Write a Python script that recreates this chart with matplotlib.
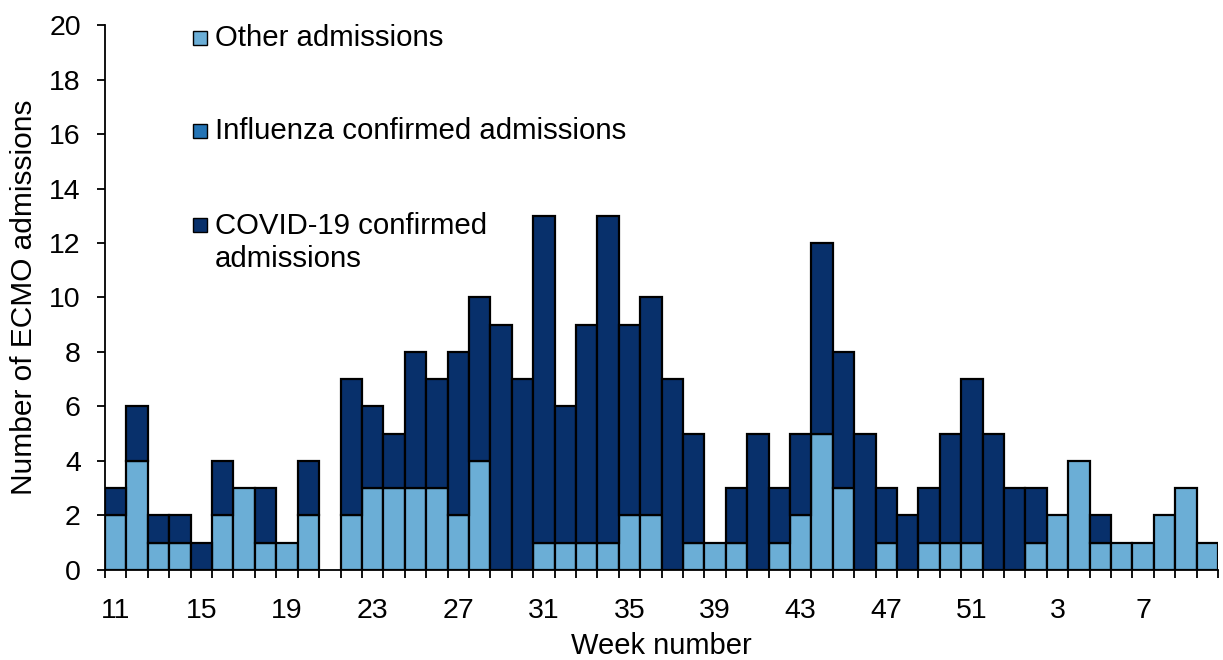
import matplotlib
matplotlib.use("Agg")
import matplotlib.pyplot as plt
import matplotlib.patches as ptch
from matplotlib.ticker import FixedLocator, FixedFormatter
import numpy as np

# weekly ECMO admissions, week 11 through week 10 of the following year
weeks = list(range(11, 53)) + list(range(1, 11))
other = [2, 4, 1, 1, 0, 2, 3, 1, 1, 2,
         0, 2, 3, 3, 3, 3, 2, 4, 0, 0,
         1, 1, 1, 1, 2, 2, 0, 1, 1, 1,
         0, 1, 2, 5, 3, 0, 1, 0, 1, 1,
         1, 0, 0, 1, 2, 4, 1, 1, 1, 2,
         3, 1]
influenza = [0] * len(weeks)
totals = [3, 6, 2, 2, 1, 4, 3, 3, 1, 4,
          0, 7, 6, 5, 8, 7, 8, 10, 9, 7,
          13, 6, 9, 13, 9, 10, 7, 5, 1, 3,
          5, 3, 5, 12, 8, 5, 3, 2, 3, 5,
          7, 5, 3, 3, 2, 4, 2, 1, 1, 2,
          3, 1]
covid = [t - o - f for t, o, f in zip(totals, other, influenza)]

series_names = ["Other admissions", "Influenza confirmed admissions",
                "COVID-19 confirmed\nadmissions"]
colors = ["#6BAED6", "#2474B5", "#08306B"]

plt.rcParams['font.family'] = ['Liberation Sans', 'DejaVu Sans']

fig = plt.figure(figsize=(12.23, 6.6), dpi=100)
ax = fig.add_axes([0.0859, 0.1364, 0.9101, 0.8257])

x = np.arange(len(weeks))
bottom = np.zeros(len(weeks))
for vals, col in zip([other, influenza, covid], colors):
    vals = np.array(vals, dtype=float)
    keep = vals > 0  # skip empty segments so they leave no outline
    ax.bar(x[keep], vals[keep], width=1.0, bottom=bottom[keep], color=col,
           edgecolor='black', linewidth=1.6)
    bottom += vals

ax.set_xlim(-0.5, len(weeks) - 0.5)
ax.set_ylim(0, 20)
ax.set_yticks(range(0, 21, 2))

# labels on every fourth week, tick marks on every bar boundary
lab_pos = x[::4]
ax.xaxis.set_major_locator(FixedLocator(lab_pos))
ax.xaxis.set_major_formatter(FixedFormatter([str(weeks[i]) for i in lab_pos]))
ax.xaxis.set_minor_locator(FixedLocator(np.arange(-0.5, len(weeks), 1.0)))
ax.tick_params(axis='x', which='major', length=0, pad=20, labelsize=20.5)
ax.tick_params(axis='x', which='minor', length=5.5, width=1.3, direction='out')
ax.tick_params(axis='y', length=5.5, width=1.3, pad=12, labelsize=20.5)

for s in ['top', 'right']:
    ax.spines[s].set_visible(False)
for s in ['left', 'bottom']:
    ax.spines[s].set_linewidth(1.3)

ax.set_xlabel("Week number", fontsize=21, labelpad=6)
ax.set_ylabel("Number of ECMO admissions", fontsize=21.5, labelpad=8)

# legend drawn as boxes and text in the empty upper-left area
legend_y = [0.976, 0.8055, 0.601]
for name, col, ly in zip(series_names, colors, legend_y):
    hy = ly if '\n' not in name else 0.633
    ax.add_patch(ptch.Rectangle((0.079, hy - 0.0128), 0.0126, 0.0257,
                                transform=ax.transAxes, facecolor=col,
                                edgecolor='black', linewidth=1.0,
                                clip_on=False))
    ax.text(0.0985, ly, name, transform=ax.transAxes, fontsize=21.2,
            va='center', ha='left', linespacing=1.2)

fig.savefig("out.png", dpi=100)
